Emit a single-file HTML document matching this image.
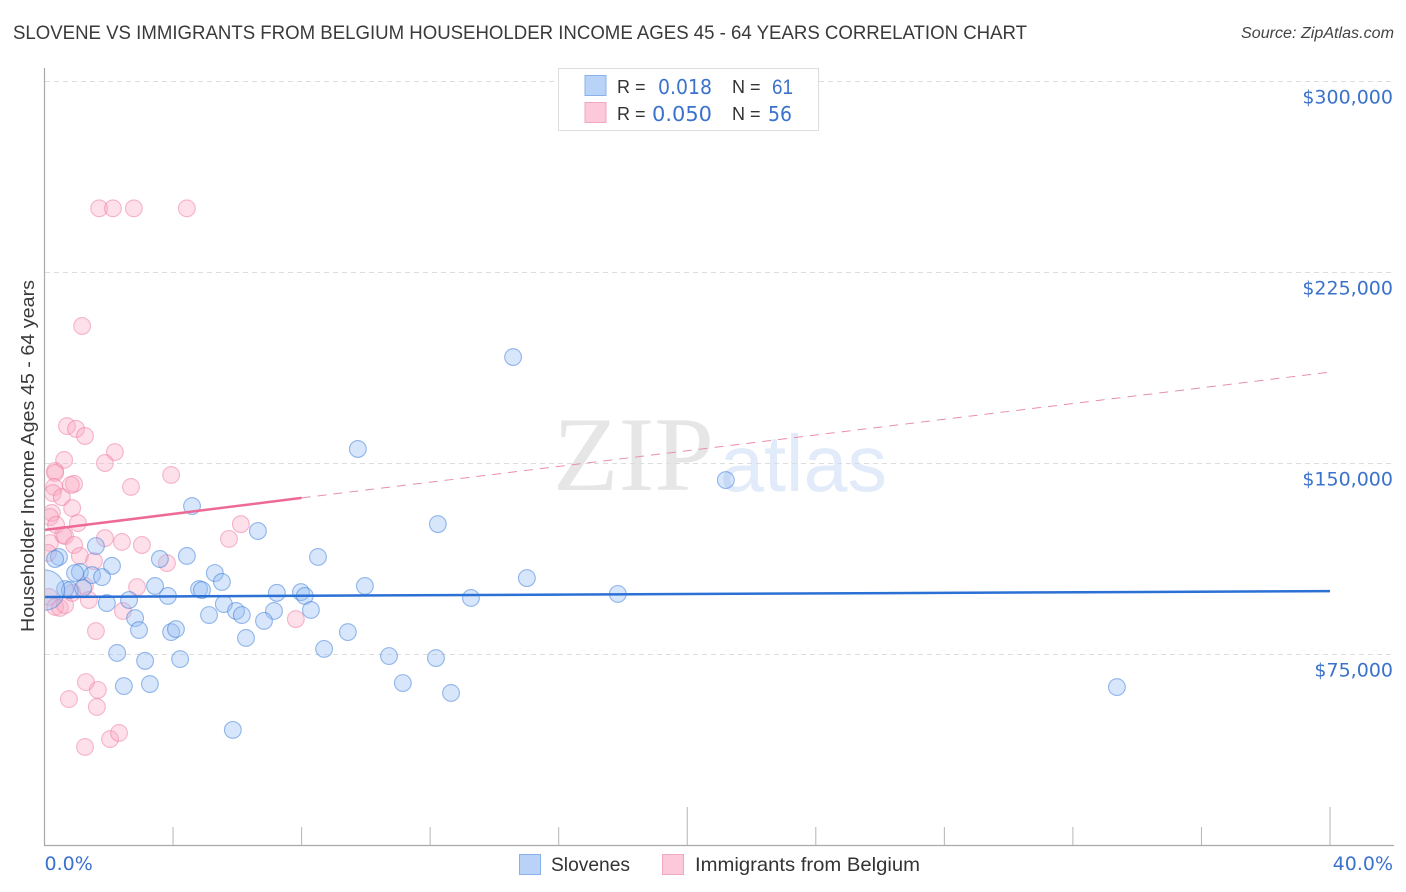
<!DOCTYPE html>
<html lang="en">
<head>
<meta charset="utf-8">
<title>Slovene vs Immigrants from Belgium Householder Income Correlation Chart</title>
<style>
html,body{margin:0;padding:0;background:#fff;}
body{width:1406px;height:892px;overflow:hidden;}
svg{display:block;}
text{font-family:"Liberation Sans",sans-serif;}
</style>
</head>
<body>
<svg id="chart" xmlns="http://www.w3.org/2000/svg" width="1406" height="892" viewBox="0 0 1406 892">
  <defs>
    <clipPath id="plot-clip"><rect x="45" y="60" width="1349" height="785"></rect></clipPath>
  </defs>
  <rect x="0" y="0" width="1406" height="892" fill="#ffffff"></rect>
  <text x="13" y="39" font-size="19" fill="#3a3a3a" textLength="1014" lengthAdjust="spacingAndGlyphs">SLOVENE VS IMMIGRANTS FROM BELGIUM HOUSEHOLDER INCOME AGES 45 - 64 YEARS CORRELATION CHART</text>
  <text x="1394" y="38" font-size="15.5" font-style="italic" fill="#444444" text-anchor="end" textLength="153" lengthAdjust="spacingAndGlyphs">Source: ZipAtlas.com</text>

  <g>
    <text x="553" y="490" style="font-family:'Liberation Serif',serif" font-size="106" fill="#e6e6e6" textLength="161" lengthAdjust="spacingAndGlyphs">ZIP</text>
    <text x="720" y="491" font-size="80" fill="#e2ebf9" textLength="167" lengthAdjust="spacingAndGlyphs">atlas</text>
  </g>

  <g id="grid"></g>
  <g id="points" clip-path="url(#plot-clip)"></g>
  <g id="trends" clip-path="url(#plot-clip)"></g>
  <g id="axes"></g>

  <text transform="translate(34,632) rotate(-90)" font-size="18.5" fill="#3a3a3a" textLength="352" lengthAdjust="spacingAndGlyphs">Householder Income Ages 45 - 64 years</text>

  <g>
    <rect x="558.5" y="68.5" width="260" height="62" fill="#ffffff" stroke="#dddddd" stroke-width="1"></rect>
    <rect x="585" y="75.5" width="21" height="20" fill="#b9d2f7" stroke="#8ab2ea" stroke-width="1"></rect>
    <rect x="585" y="102.5" width="21" height="20" fill="#fcc9da" stroke="#f3a6bf" stroke-width="1"></rect>
    <text x="617" y="93" font-size="18" fill="#333333">R =</text>
    <text x="658" y="94" font-size="20" fill="#3b72cc" style="font-family:'DejaVu Sans',sans-serif" textLength="54" lengthAdjust="spacingAndGlyphs">0.018</text>
    <text x="732" y="93" font-size="18" fill="#333333">N =</text>
    <text x="772" y="94" font-size="21" fill="#3b72cc" textLength="21" lengthAdjust="spacingAndGlyphs">61</text>
    <text x="617" y="120" font-size="18" fill="#333333">R =</text>
    <text x="652" y="121" font-size="20" fill="#3b72cc" style="font-family:'DejaVu Sans',sans-serif" textLength="60" lengthAdjust="spacingAndGlyphs">0.050</text>
    <text x="732" y="120" font-size="18" fill="#333333">N =</text>
    <text x="768" y="121" font-size="20" fill="#3b72cc" style="font-family:'DejaVu Sans',sans-serif" textLength="24" lengthAdjust="spacingAndGlyphs">56</text>
  </g>

  <g>
    <rect x="519.5" y="854.5" width="21" height="20" fill="#b9d2f7" stroke="#8ab2ea" stroke-width="1"></rect>
    <text x="551" y="871" font-size="19.5" fill="#333333" textLength="79" lengthAdjust="spacingAndGlyphs">Slovenes</text>
    <rect x="662.5" y="854.5" width="21" height="20" fill="#fcc9da" stroke="#f3a6bf" stroke-width="1"></rect>
    <text x="695" y="871" font-size="19.5" fill="#333333" textLength="225" lengthAdjust="spacingAndGlyphs">Immigrants from Belgium</text>
  </g>
</svg>

<script>
const yTickValues = [75000, 150000, 225000, 300000];
const yTickLabels = ["$75,000", "$150,000", "$225,000", "$300,000"];
const xTickValues = [0, 4, 8, 12, 16, 20, 24, 28, 32, 36, 40];
const xEndLabels = ["0.0%", "40.0%"];

const sloveneX = [14.58,9.75,4.59,21.20,12.24,6.64,1.60,0.45,0.33,4.43,3.59,8.51,2.10,1.10,0.95,5.30,1.48,1.79,5.52,15.01,9.97,3.44,4.81,4.90,3.84,7.23,7.98,8.10,13.27,17.84,1.94,2.63,5.58,5.96,6.14,5.12,7.14,8.29,6.83,2.82,2.94,3.94,4.09,9.44,6.27,8.70,2.26,3.13,4.22,10.72,12.18,2.47,3.28,11.15,12.65,33.37,5.86,0.64,0.79,1.20,0.00];
const sloveneY = [191600,155500,133100,143300,126000,123300,117400,113100,112300,113500,112300,113100,109600,107200,106800,106800,106000,105200,103300,104800,101700,101700,100500,100100,97800,99000,99300,97800,97000,98600,95000,96200,94600,91900,90300,90300,91900,92300,88000,89100,84400,83600,84800,83600,81300,77000,75400,72300,73000,74200,73400,62400,63200,63600,59700,62000,45200,100500,100100,100900,100100];
const sloveneWeight = [1,1,1,1,1,1,1,1,1,1,1,1,1,1,1,1,1,1,1,1,1,1,1,1,1,1,1,1,1,1,1,1,1,1,1,1,1,1,1,1,1,1,1,1,1,1,1,1,1,1,1,1,1,1,1,1,1,1,1,1,2.4];

const belgiumX = [1.70,2.13,2.78,4.43,1.17,0.70,0.98,1.26,2.19,1.88,0.61,0.33,0.33,3.94,2.69,0.92,0.82,0.30,0.26,0.54,0.86,0.23,0.17,1.04,0.36,0.58,0.64,0.92,1.88,2.41,3.03,1.10,1.54,0.17,0.11,0.14,0.33,0.48,0.64,0.86,1.26,1.38,2.88,2.44,1.60,6.11,5.74,3.81,7.82,0.76,1.29,1.66,1.63,1.26,2.04,2.32];
const belgiumY = [250000,250000,250000,250000,203800,164500,163400,160600,154300,150000,151200,146900,146100,145300,140600,141800,141400,140600,138200,136600,132300,130400,128800,126400,125700,121700,121300,117800,120500,119000,117800,113500,111500,118600,114700,97400,93500,93100,94200,99000,101700,96200,101300,91900,84000,126000,120200,110700,88700,57300,64000,60900,54200,38500,41600,44000];

const sloveneTrendX = [0, 40];
const sloveneTrendY = [97400, 99700];
const belgiumTrendSolidX = [0, 8];
const belgiumTrendSolidY = [123700, 136300];
const belgiumTrendDashedX = [8, 40];
const belgiumTrendDashedY = [136300, 185700];

const NS = "http://www.w3.org/2000/svg";
function xScale(v) { return 44.5 + v / 40 * 1285.5; }
function yScale(v) { return 654 - (v - 75000) / 75000 * 191; }
function make(tag, parent) {
  const el = document.createElementNS(NS, tag);
  parent.appendChild(el);
  return el;
}

const grid = document.getElementById("grid");
const axes = document.getElementById("axes");
const points = document.getElementById("points");
const trends = document.getElementById("trends");

yTickValues.forEach(function (v, i) {
  const line = make("line", grid);
  
  
  line.setAttribute("x1", 45);
  line.setAttribute("x2", 1394);
  line.setAttribute("y1", yScale(v) + 0.5);
  line.setAttribute("y2", yScale(v) + 0.5);
  line.setAttribute("stroke", "#dddddd");
  line.setAttribute("stroke-width", 1);
  line.setAttribute("stroke-dasharray", "5 4");

  const label = make("text", axes);
  
  
  label.setAttribute("x", 1393);
  label.setAttribute("y", yScale(v) + 22.5);
  label.setAttribute("text-anchor", "end");
  label.setAttribute("font-size", "19");
  label.setAttribute("fill", "#3b72cc");
  label.setAttribute("style", "font-family:'DejaVu Sans',sans-serif");
  label.textContent = yTickLabels[i];
});

const yAxis = make("line", axes);


yAxis.setAttribute("x1", 44.5);
yAxis.setAttribute("x2", 44.5);
yAxis.setAttribute("y1", 68);
yAxis.setAttribute("y2", 846);
yAxis.setAttribute("stroke", "#aaaaaa");
yAxis.setAttribute("stroke-width", 1.2);

const xAxis = make("line", axes);


xAxis.setAttribute("x1", 44);
xAxis.setAttribute("x2", 1394);
xAxis.setAttribute("y1", 845.5);
xAxis.setAttribute("y2", 845.5);
xAxis.setAttribute("stroke", "#aaaaaa");
xAxis.setAttribute("stroke-width", 1.2);

xTickValues.forEach(function (v) {
  if (v === 0) return;
  const tick = make("line", axes);
  
  
  tick.setAttribute("x1", xScale(v));
  tick.setAttribute("x2", xScale(v));
  tick.setAttribute("y1", (v === 20 || v === 40) ? 807 : 827);
  tick.setAttribute("y2", 845);
  tick.setAttribute("stroke", "#b5b5b5");
  tick.setAttribute("stroke-width", 1);
});

const xLabelStart = make("text", axes);


xLabelStart.setAttribute("x", xScale(0));
xLabelStart.setAttribute("y", 870);
xLabelStart.setAttribute("font-size", "19");
xLabelStart.setAttribute("fill", "#3b72cc");
xLabelStart.setAttribute("style", "font-family:'DejaVu Sans',sans-serif");
xLabelStart.textContent = xEndLabels[0];

const xLabelEnd = make("text", axes);


xLabelEnd.setAttribute("x", 1393);
xLabelEnd.setAttribute("y", 870);
xLabelEnd.setAttribute("text-anchor", "end");
xLabelEnd.setAttribute("font-size", "19");
xLabelEnd.setAttribute("fill", "#3b72cc");
xLabelEnd.setAttribute("style", "font-family:'DejaVu Sans',sans-serif");
xLabelEnd.textContent = xEndLabels[1];

belgiumX.forEach(function (v, i) {
  const dot = make("circle", points);
  
  
  dot.setAttribute("cx", xScale(v));
  dot.setAttribute("cy", yScale(belgiumY[i]));
  dot.setAttribute("r", 8.4);
  dot.setAttribute("fill", "rgba(249,170,195,0.36)");
  dot.setAttribute("stroke", "rgba(238,120,160,0.5)");
  dot.setAttribute("stroke-width", 1.1);
});

sloveneX.forEach(function (v, i) {
  const dot = make("circle", points);
  
  
  dot.setAttribute("cx", xScale(v));
  dot.setAttribute("cy", yScale(sloveneY[i]));
  dot.setAttribute("r", 8.4 * sloveneWeight[i]);
  dot.setAttribute("fill", "rgba(150,190,245,0.38)");
  dot.setAttribute("stroke", "rgba(60,125,215,0.52)");
  dot.setAttribute("stroke-width", 1.1);
});

const dashTrend = make("line", trends);


dashTrend.setAttribute("x1", xScale(belgiumTrendDashedX[0]));
dashTrend.setAttribute("y1", yScale(belgiumTrendDashedY[0]));
dashTrend.setAttribute("x2", xScale(belgiumTrendDashedX[1]));
dashTrend.setAttribute("y2", yScale(belgiumTrendDashedY[1]));
dashTrend.setAttribute("stroke", "#e88fae");
dashTrend.setAttribute("stroke-width", 1);
dashTrend.setAttribute("stroke-dasharray", "9 7");

const solidTrend = make("line", trends);


solidTrend.setAttribute("x1", xScale(belgiumTrendSolidX[0]));
solidTrend.setAttribute("y1", yScale(belgiumTrendSolidY[0]));
solidTrend.setAttribute("x2", xScale(belgiumTrendSolidX[1]));
solidTrend.setAttribute("y2", yScale(belgiumTrendSolidY[1]));
solidTrend.setAttribute("stroke", "#ee6a96");
solidTrend.setAttribute("stroke-width", 2.5);

const blueTrend = make("line", trends);


blueTrend.setAttribute("x1", xScale(sloveneTrendX[0]));
blueTrend.setAttribute("y1", yScale(sloveneTrendY[0]));
blueTrend.setAttribute("x2", xScale(sloveneTrendX[1]));
blueTrend.setAttribute("y2", yScale(sloveneTrendY[1]));
blueTrend.setAttribute("stroke", "#2b70d4");
blueTrend.setAttribute("stroke-width", 2.5);
</script>
</body>
</html>
